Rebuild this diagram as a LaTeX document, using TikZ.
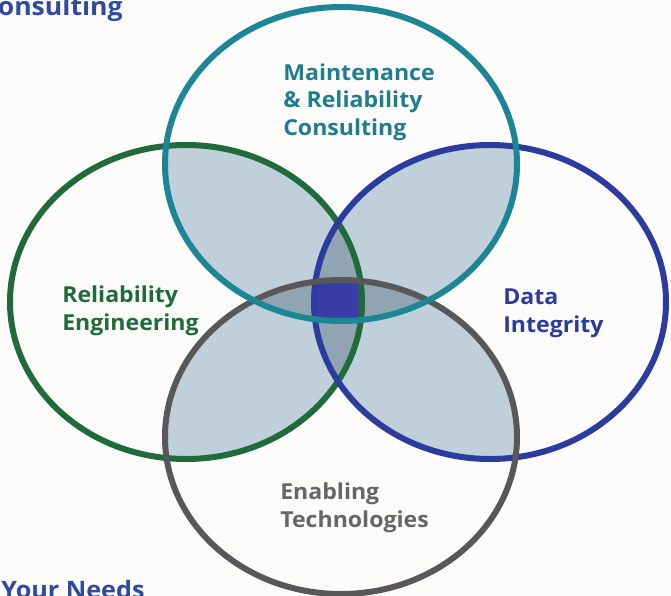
\documentclass[tikz,border=0pt]{standalone}
\usepackage{fontspec}
\setmainfont[FakeStretch=1.05]{Open Sans}
\definecolor{paper}{HTML}{FDFCFA}
\definecolor{tealring}{HTML}{1D8696}
\definecolor{greenring}{HTML}{1F6B3B}
\definecolor{bluering}{HTML}{2B3B9E}
\definecolor{grayring}{HTML}{58585A}
\definecolor{pairfill}{HTML}{BFD0DA}
\definecolor{triplefill}{HTML}{90A4B2}
\definecolor{corefill}{HTML}{3A3DA3}
\definecolor{tealtext}{HTML}{1F7D8D}
\definecolor{graytext}{HTML}{666666}
\definecolor{headblue}{HTML}{2F4B9F}
\tikzset{ring/.style={line width=4.5pt},
  oval/.style={x radius=176,y radius=157}}

\begin{document}
\begin{tikzpicture}[x=0.75pt,y=-0.75pt,
  lbl/.style={anchor=base west,align=left,inner sep=0pt,
    font=\fontsize{16.5}{20.6}\selectfont\bfseries}]
  \fill[paper] (0,0) rectangle (671,596);
  \useasboundingbox (0,0) rectangle (671,596);
  % centres of the four rings
  \coordinate (mrc) at (341,164);
  \coordinate (rel) at (186,302);
  \coordinate (dat) at (490,302);
  \coordinate (ena) at (341,437);
  % overlaps of two rings
  \foreach \a/\b in {mrc/rel,mrc/dat,ena/rel,ena/dat}{
    \begin{scope}
      \clip (\a) ellipse [oval];
      \fill[pairfill] (\b) ellipse [oval];
    \end{scope}}
  % overlaps of three rings
  \foreach \a/\b/\c in {mrc/rel/ena,mrc/dat/ena,mrc/rel/dat,ena/rel/dat}{
    \begin{scope}
      \clip (\a) ellipse [oval];
      \clip (\b) ellipse [oval];
      \fill[triplefill] (\c) ellipse [oval];
    \end{scope}}
  % all four
  \begin{scope}
    \clip (mrc) ellipse [oval];
    \clip (ena) ellipse [oval];
    \clip (rel) ellipse [oval];
    \fill[corefill] (dat) ellipse [oval];
  \end{scope}
  \draw[ring,greenring] (rel) ellipse [oval];
  \draw[ring,bluering] (dat) ellipse [oval];
  \draw[ring,grayring] (ena) ellipse [oval];
  \draw[ring,tealring] (mrc) ellipse [oval];
  % labels (base = last line)
  \node[lbl,text=tealtext] (mrclbl) at (283,135) {Maintenance\\\& Reliability\\Consulting};
  \node[lbl,text=greenring] (rellbl) at (62,330) {Reliability\\Engineering};
  \node[lbl,text=bluering] (datlbl) at (503,332) {Data\\Integrity};
  \node[lbl,text=graytext] (enalbl) at (280,527) {Enabling\\Technologies};
  % cut-off headings
  \node[anchor=base east,inner sep=0pt,text=headblue,font=\fontsize{19}{22}\selectfont\bfseries] (head) at (123,15) {onsulting};
  \node[anchor=base west,inner sep=0pt,text=headblue,font=\fontsize{18}{22}\selectfont\bfseries] (needs) at (1,598) {Your Needs};
\end{tikzpicture}
\end{document}
